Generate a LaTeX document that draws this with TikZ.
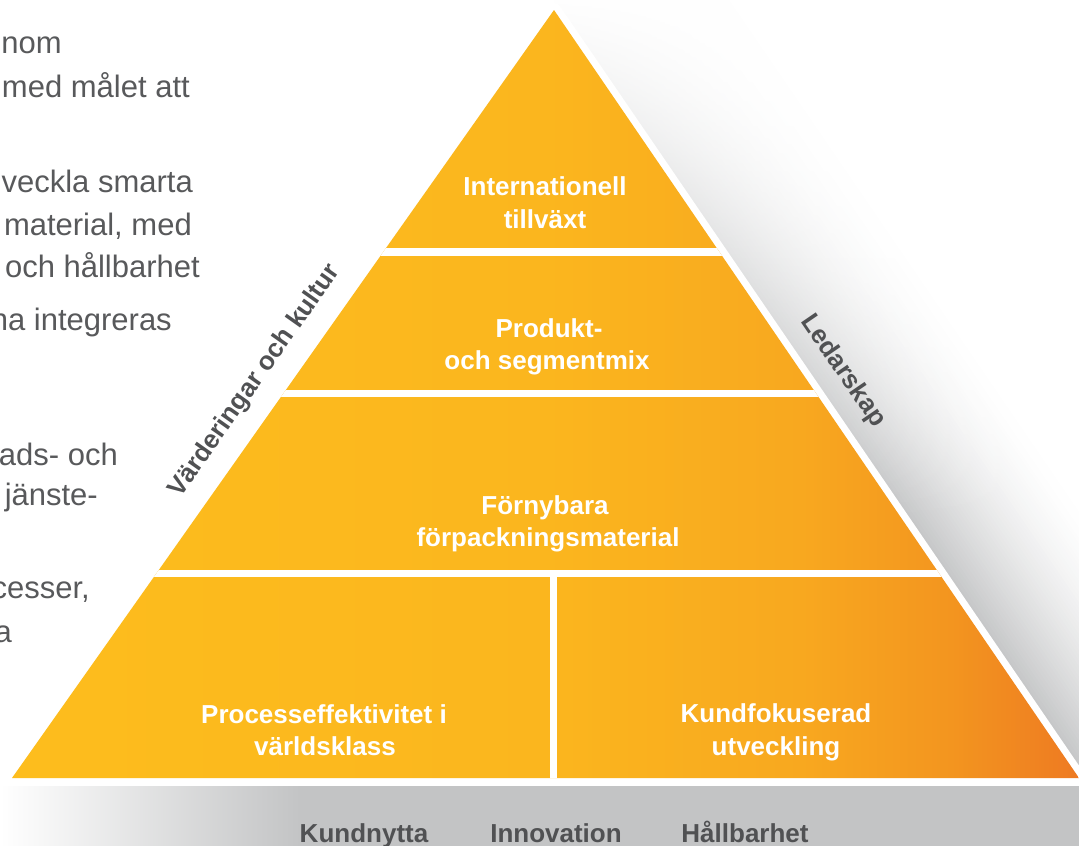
\documentclass[tikz,border=0pt]{standalone}
\usepackage{fontspec}
\setmainfont{Liberation Sans}
\usetikzlibrary{fadings}
\definecolor{txtgray}{HTML}{58595B}
\definecolor{lblgray}{HTML}{505153}
\definecolor{shgray}{HTML}{C3C4C5}
\definecolor{oa}{HTML}{FDBD1D}
\definecolor{ob}{HTML}{FBB61E}
\definecolor{oc}{HTML}{F8A81F}
\definecolor{od}{HTML}{F3951F}
\definecolor{oe}{HTML}{EE7A22}
\pgfdeclarehorizontalshading{pyr}{100bp}{color(0bp)=(oa); color(25bp)=(oa); color(50bp)=(ob); color(62bp)=(oc); color(69bp)=(od); color(75bp)=(oe); color(100bp)=(oe)}
\tikzfading[name=fadedown, top color=transparent!0, bottom color=transparent!100]
\begin{document}
\begin{tikzpicture}[x=1pt,y=-1pt,
  body/.style={text=txtgray, font=\fontsize{31}{36}\selectfont, inner sep=0pt},
  lbl/.style={text=white, font=\bfseries\fontsize{26}{30}\selectfont, inner sep=0pt, anchor=base},
  side/.style={text=lblgray, font=\bfseries\fontsize{26}{30}\selectfont, inner sep=0pt},
  bot/.style={text=lblgray, font=\bfseries\fontsize{26}{30}\selectfont, inner sep=0pt, anchor=base}]
\useasboundingbox (0,0) rectangle (1079,846);
\coordinate (apex) at (554,10);
\coordinate (bl) at (12,778);
\coordinate (br) at (1079,778);
% right shadow
\begin{scope}
\clip (554,10) -- (1236.5,1008.4) -- (1400,1008) -- (1400,-30) -- (554,-30) -- cycle;
\foreach \d in {0,3,...,150} {
  \pgfmathsetmacro{\shp}{100*(1-\d/153)^1.5}
  \fill[shgray!\shp!white] ({554-0.1*525+\d*0.8256},{10-0.1*768-\d*0.5643}) -- ({554+1.3*525+\d*0.8256},{10+1.3*768-\d*0.5643}) -- ({554+1.3*525+(\d+3.6)*0.8256},{10+1.3*768-(\d+3.6)*0.5643}) -- ({554-0.1*525+(\d+3.6)*0.8256},{10-0.1*768-(\d+3.6)*0.5643}) -- cycle;
}
\end{scope}
\fill[white, path fading=fadedown] (540,-5) rectangle (1085,520);
% bottom band
\shade[left color=white, right color=shgray] (0,786) rectangle (300,846);
\fill[shgray] (299.5,786) rectangle (1079,846);
% pyramid
\draw[white, fill=white, line width=14, line join=round] (apex) -- (bl) -- (br) -- cycle;
\shade[shading=pyr] (apex) -- (bl) -- (br) -- cycle;
\begin{scope}
\clip (apex) -- (bl) -- (br) -- cycle;
\draw[white, line width=7.5] (0,252) -- (1079,252) (0,393.5) -- (1079,393.5) (0,573.5) -- (1079,573.5) (553.5,573) -- (553.5,790);
\end{scope}
% tier labels
\node[lbl] (t1a) at (545,195) {Internationell};
\node[lbl] (t1b) at (545,228) {tillväxt};
\node[lbl] (t2a) at (549,337) {Produkt-};
\node[lbl] (t2b) at (547,369) {och segmentmix};
\node[lbl] (t3a) at (545,514) {Förnybara};
\node[lbl] (t3b) at (548,546) {förpackningsmaterial};
\node[lbl] (t4a) at (324,723) {Processeffektivitet i};
\node[lbl] (t4b) at (325,755) {världsklass};
\node[lbl] (t5a) at (776,722) {Kundfokuserad};
\node[lbl] (t5b) at (776,755) {utveckling};
% side labels
\node[side, rotate=54.8] (vk) at (255,381) {Värderingar och kultur};
\node[side, rotate=-55.6] (ls) at (843,371) {Ledarskap};
% bottom labels
\node[bot] (b1) at (364,842) {Kundnytta};
\node[bot] (b2) at (556,842) {Innovation};
\node[bot] (b3) at (745,842) {Hållbarhet};
% left body text (cut off at the left edge)
\node[body, anchor=base east] (l1) at (62,53) {nom};
\node[body, anchor=base east] (l2) at (190,97) {med målet att};
\node[body, anchor=base east] (l3) at (193,192) {veckla smarta};
\node[body, anchor=base east] (l4) at (192,235) {material, med};
\node[body, anchor=base east] (l5) at (200,277) {och hållbarhet};
\node[body, anchor=base east] (l6) at (172,330) {na integreras};
\node[body, anchor=base east] (l7) at (118,465) {ads- och};
\node[body, anchor=base east] (l8) at (98,505) {jänste-};
\node[body, anchor=base east] (l9) at (90,598) {cesser,};
\node[body, anchor=base east] (l10) at (12,642) {a};
\end{tikzpicture}
\end{document}
